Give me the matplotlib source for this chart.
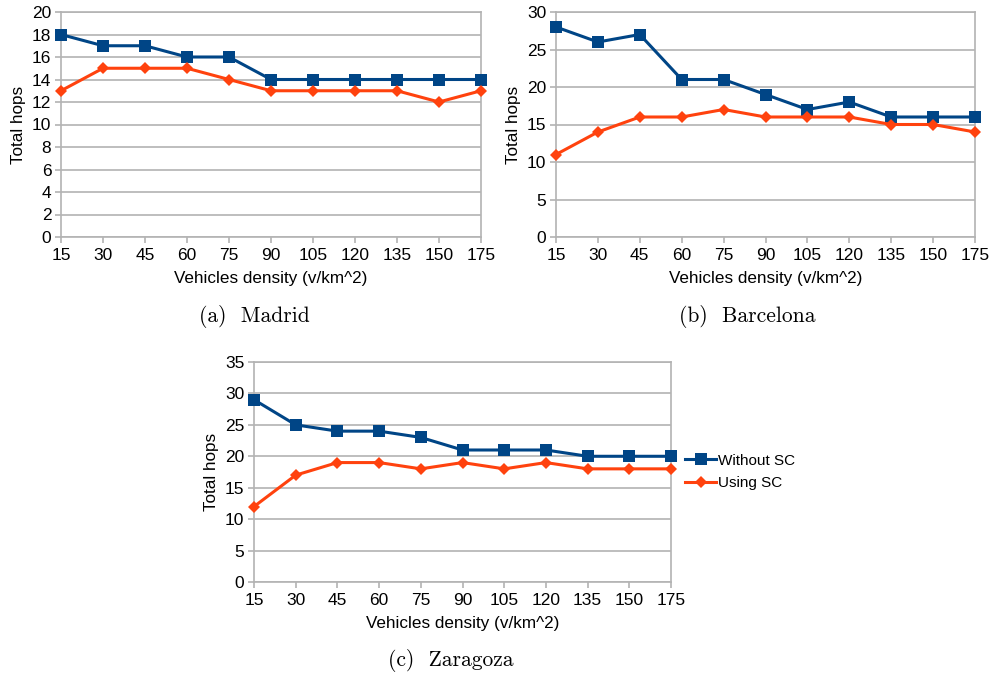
import matplotlib
matplotlib.use("Agg")
import matplotlib.pyplot as plt

densities = ["15", "30", "45", "60", "75", "90", "105", "120", "135", "150", "175"]

madrid_without = [18, 17, 17, 16, 16, 14, 14, 14, 14, 14, 14]
madrid_using = [13, 15, 15, 15, 14, 13, 13, 13, 13, 12, 13]

barcelona_without = [28, 26, 27, 21, 21, 19, 17, 18, 16, 16, 16]
barcelona_using = [11, 14, 16, 16, 17, 16, 16, 16, 15, 15, 14]

zaragoza_without = [29, 25, 24, 24, 23, 21, 21, 21, 20, 20, 20]
zaragoza_using = [12, 17, 19, 19, 18, 19, 18, 19, 18, 18, 18]

series_names = ["Without SC", "Using SC"]
captions = ["(a)  Madrid", "(b)  Barcelona", "(c)  Zaragoza"]

BLUE = "#004586"
ORANGE = "#ff420e"
GRID = "#b3b3b3"

plt.rcParams["font.family"] = ["Liberation Sans", "DejaVu Sans"]

W, H = 993, 675
fig = plt.figure(figsize=(W / 100, H / 100), dpi=100)


def px_axes(left, top, right, bottom):
    return fig.add_axes([left / W, 1 - bottom / H, (right - left) / W, (bottom - top) / H])


def draw(ax, without, using, ymax, ystep):
    x = list(range(len(densities)))
    ax.plot(x, without, color=BLUE, lw=2.2, marker="s", ms=8, mew=0,
            label=series_names[0], clip_on=False, zorder=3)
    ax.plot(x, using, color=ORANGE, lw=2.2, marker="D", ms=6, mew=0,
            label=series_names[1], clip_on=False, zorder=3)
    ax.set_xlim(0, len(densities) - 1)
    ax.set_ylim(0, ymax)
    ax.set_xticks(x)
    ax.set_xticklabels(densities)
    ax.set_yticks(range(0, ymax + 1, ystep))
    ax.grid(axis="y", color=GRID, lw=1.2)
    for s in ax.spines.values():
        s.set_color(GRID)
        s.set_linewidth(1.2)
    ax.tick_params(axis="both", colors=GRID, labelcolor="black", labelsize=12.5,
                   length=4, width=1.2, pad=3)
    ax.tick_params(axis="x", pad=4)
    ax.set_xlabel("Vehicles density (v/km^2)", fontsize=12.3, labelpad=6)
    ax.set_ylabel("Total hops", fontsize=12.3, labelpad=4)
    ax.set_axisbelow(True)


ax1 = px_axes(61, 12, 481, 237)
draw(ax1, madrid_without, madrid_using, 20, 2)
ax2 = px_axes(556, 12, 975, 237)
draw(ax2, barcelona_without, barcelona_using, 30, 5)
ax3 = px_axes(254, 362, 671, 582)
draw(ax3, zaragoza_without, zaragoza_using, 35, 5)

ax3.legend(loc="center left", bbox_to_anchor=(1.02, 0.50), frameon=False,
           fontsize=11, handlelength=2.0, handletextpad=0.1, labelspacing=0.55,
           borderaxespad=0)

cap_font = dict(family="cmr10", fontsize=15.5, ha="center", va="center")
fig.text(254 / W, 1 - 316 / H, captions[0], **cap_font)
fig.text(747 / W, 1 - 316 / H, captions[1], **cap_font)
fig.text(451 / W, 1 - 660 / H, captions[2], **cap_font)

fig.savefig("out.png", dpi=100)
